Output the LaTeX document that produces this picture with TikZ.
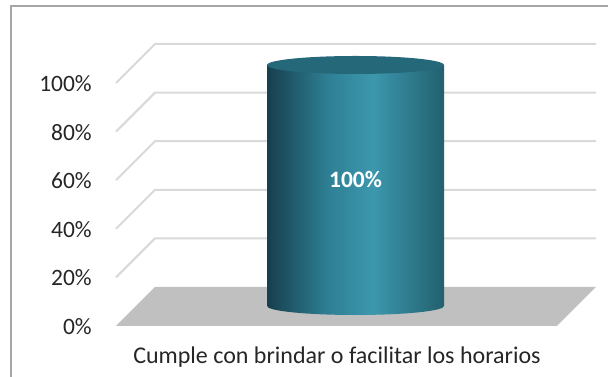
\documentclass[tikz,border=0pt]{standalone}
\usepackage{fontspec}
\setmainfont{Carlito}
\definecolor{gridc}{HTML}{D9D9D9}
\definecolor{floorc}{HTML}{C0C0C0}
\definecolor{framec}{HTML}{A6A6A6}
\definecolor{cA}{HTML}{173F4D}
\definecolor{cB}{HTML}{2E7F94}
\definecolor{cC}{HTML}{3C97AD}
\definecolor{cD}{HTML}{22606F}
\definecolor{topc}{HTML}{25687A}
\definecolor{labc}{HTML}{262626}
\pgfdeclarehorizontalshading{cylshade}{100bp}{color(0bp)=(cA); color(25bp)=(cA); color(42bp)=(cB); color(55bp)=(cC); color(75bp)=(cD); color(100bp)=(cD)}
\begin{document}
\begin{tikzpicture}[x=0.75pt,y=0.75pt,
  grid/.style={draw=gridc,line width=1.5pt},
  ticklab/.style={anchor=east,text=labc,font=\fontsize{17.6}{20}\selectfont,inner sep=0pt},
  frame/.style={draw=framec,line width=1.1pt}]
\useasboundingbox (0,0) rectangle (608,377);
% frame
\draw[frame] (11,0) -- (11,371) -- (608,371);
% floor
\fill[floorc] (155,90) -- (596,90) -- (557,51) -- (116,51) -- cycle;
% gridlines
\foreach \k in {1,...,5}{
  \pgfmathsetmacro{\yb}{90+48.6*\k}
  \draw[grid] (116,\yb-39) -- (155,\yb) -- (596,\yb);
}
% tick labels
\foreach \k/\t in {0/0\%,1/20\%,2/40\%,3/60\%,4/80\%,5/100\%}{
  \node[ticklab] (t\k) at (92,50.5+48.6*\k) {\t};
}
% cylinder
\path[shading=cylshade] (267,312) -- (267,71) arc[start angle=180,end angle=360,x radius=88.5,y radius=9] -- (444,312) -- cycle;
\fill[topc] (355.5,312) ellipse[x radius=88.5,y radius=9];
\node[text=white,font=\fontsize{17.6}{20}\selectfont\bfseries,inner sep=0pt] (val) at (355.5,197) {100\%};
% category label
\node[text=labc,font=\fontsize{18}{20}\selectfont,inner sep=0pt] (cat) at (337,20) {Cumple con brindar o facilitar los horarios};
\end{tikzpicture}
\end{document}
